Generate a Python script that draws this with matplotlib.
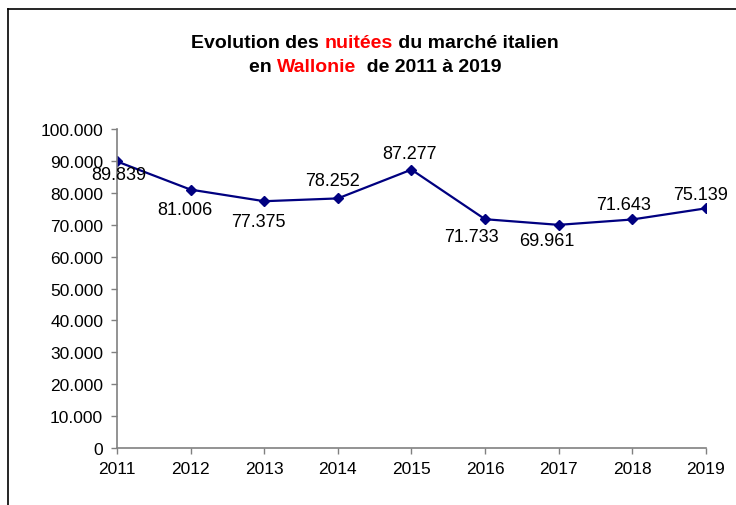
import matplotlib as mpl
mpl.use('Agg')
import matplotlib.pyplot as plt
from matplotlib.lines import Line2D

plt.rcParams['font.family'] = ['Liberation Sans', 'DejaVu Sans']

years = [2011, 2012, 2013, 2014, 2015, 2016, 2017, 2018, 2019]
nuitees = [89839, 81006, 77375, 78252, 87277, 71733, 69961, 71643, 75139]
labels = ['89.839', '81.006', '77.375', '78.252', '87.277', '71.733', '69.961', '71.643', '75.139']
# label offsets from the point, in pixels (dx, dy up)
label_dx = [2, -6, -6, -5, -2, -14, -12, -9, -5]
label_dy = [-13, -20, -20, 18, 16, -17, -16, 15, 14]
yticks = list(range(0, 100001, 10000))

fig = plt.figure(figsize=(7.36, 5.06), dpi=100)
ax = fig.add_axes([0.159, 0.1126, 0.8, 0.6304])

ax.plot(years, nuitees, color='#000080', marker='D', markersize=5.5, linewidth=1.6)

for x, y, lab, dx, dy in zip(years, nuitees, labels, label_dx, label_dy):
    ax.annotate(lab, (x, y), xytext=(dx * 0.72, dy * 0.72), textcoords='offset points',
                ha='center', va='center', fontsize=13)

ax.set_xlim(2011, 2019)
ax.set_ylim(0, 100000)
ax.set_xticks(years)
ax.set_yticks(yticks)
ax.set_yticklabels(['0' if v == 0 else f'{v // 1000}.000' for v in yticks])
ax.tick_params(labelsize=12.5, color='#808080', length=4, width=1)
ax.tick_params(axis='y', pad=6)
ax.tick_params(axis='x', pad=5)
for s in ['top', 'right']:
    ax.spines[s].set_visible(False)
for s in ['left', 'bottom']:
    ax.spines[s].set_color('#808080')
    ax.spines[s].set_linewidth(1.2)

# outer frame (left and top visible)
fig.add_artist(Line2D([0.011, 0.011], [0, 0.98], transform=fig.transFigure, color='black', lw=1.2))
fig.add_artist(Line2D([0.011, 1.0], [0.98, 0.98], transform=fig.transFigure, color='black', lw=1.2))

# title with coloured words
def colored_line(parts, y):
    renderer = fig.canvas.get_renderer()
    texts = []
    widths = []
    for s, c in parts:
        t = fig.text(0, y, s, color=c, fontsize=14, fontweight='bold', va='center')
        widths.append(t.get_window_extent(renderer).width)
        texts.append(t)
    total = sum(widths)
    x = 375 - total / 2
    for t, w in zip(texts, widths):
        t.set_x(x / 736)
        x += w

colored_line([('Evolution des ', 'black'), ('nuitées', 'red'), (' du marché italien', 'black')], 1 - 43 / 506)
colored_line([('en ', 'black'), ('Wallonie', 'red'), ('  de 2011 à 2019', 'black')], 1 - 67 / 506)

plt.savefig('out.png', dpi=100)
